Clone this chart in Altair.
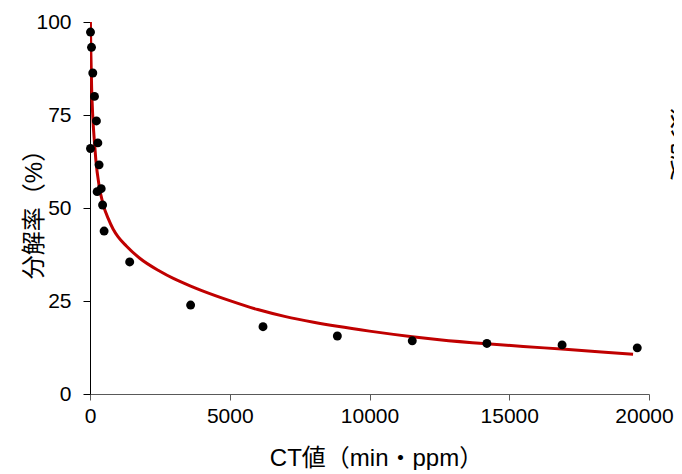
import altair as alt
import pandas as pd

# measured points
ct_values = [18, 54, 100, 160, 230, 280, 18, 325, 255, 400, 450, 505,
             1420, 3600, 6190, 8850, 11530, 14200, 16890, 19580]
rate_values = [97.3, 93.2, 86.3, 80.0, 73.4, 67.5, 66.0, 61.6, 54.4, 55.2, 50.8, 43.8,
               35.5, 23.9, 18.1, 15.6, 14.3, 13.6, 13.2, 12.4]
# fitted curve
curve_ct = [15, 30, 60, 100, 161, 208, 326, 470, 650, 830, 1000, 1300, 1780, 2500,
            3000, 3600, 4000, 5000, 6000, 7000, 8000, 8850, 10000, 11530, 12500,
            14200, 15500, 17000, 18300, 19430]
curve_rate = [100, 92, 82, 74.5, 67.5, 63, 56, 51, 47.2, 44.3, 42.3, 39.8, 36.5, 33.0,
              31.0, 29.0, 27.8, 25.1, 22.7, 20.8, 19.3, 18.2, 16.9, 15.4, 14.6,
              13.5, 12.8, 12.0, 11.3, 10.7]
x_ticks = [0, 5000, 10000, 15000, 20000]
y_ticks = [0, 25, 50, 75, 100]
x_title = "CT値（min・ppm）"
y_title = "分解率（%）"
right_label = ["吸光度"]

df = pd.DataFrame({"ct": ct_values, "rate": rate_values})
cdf = pd.DataFrame({"ct": curve_ct, "rate": curve_rate})
FONT = "Liberation Sans, Arial, Noto Sans CJK JP, sans-serif"

x_enc = alt.X("ct:Q", scale=alt.Scale(domain=[0, 20000], nice=False),
              axis=alt.Axis(values=x_ticks, format="d", title=x_title,
                            grid=False, domainColor="#595959", tickColor="#595959",
                            tickSize=6, labelFontSize=21, labelColor="black",
                            labelFont=FONT, labelPadding=5, labelFlush=False,
                            labelOffset={"condition": {"test": "datum.value == 20000", "value": -5},
                                         "value": 0},
                            titleFont=FONT, titleFontSize=24, titleFontWeight="normal",
                            titleColor="black", titlePadding=20, titleX=286,
                            titleAlign="center"))
y_enc = alt.Y("rate:Q", scale=alt.Scale(domain=[0, 100], nice=False),
              axis=alt.Axis(values=y_ticks, title=y_title, grid=False,
                            domainColor="black", tickColor="black", tickSize=7,
                            labelFontSize=21, labelColor="black", labelFont=FONT,
                            labelPadding=12, labelFlush=False,
                            titleFont=FONT, titleFontSize=24, titleFontWeight="normal",
                            titleColor="black", titleX=-56, titleBaseline="middle",
                            titleAlign="center"))

curve = alt.Chart(cdf).mark_line(
    color="#C00000", strokeWidth=3, clip=True, interpolate="monotone"
).encode(x=x_enc, y=y_enc)

points = alt.Chart(df).mark_point(filled=True, color="black", size=80, opacity=1).encode(
    x=alt.X("ct:Q"), y=alt.Y("rate:Q")
)

side = alt.Chart(pd.DataFrame({"t": right_label})).mark_text(
    angle=90, align="center", baseline="bottom", fontSize=26, font=FONT, color="black"
).encode(x=alt.value(578), y=alt.value(120), text="t:N")

chart = (curve + points + side).properties(
    width=559, height=372,
    background="white",
    autosize=alt.AutoSizeParams(type="none"),
    padding={"left": 82, "top": 14, "right": 25, "bottom": 76},
).configure_view(strokeWidth=0, stroke="transparent")

chart.save("out.html", embed_options={"renderer": "svg", "actions": False})
